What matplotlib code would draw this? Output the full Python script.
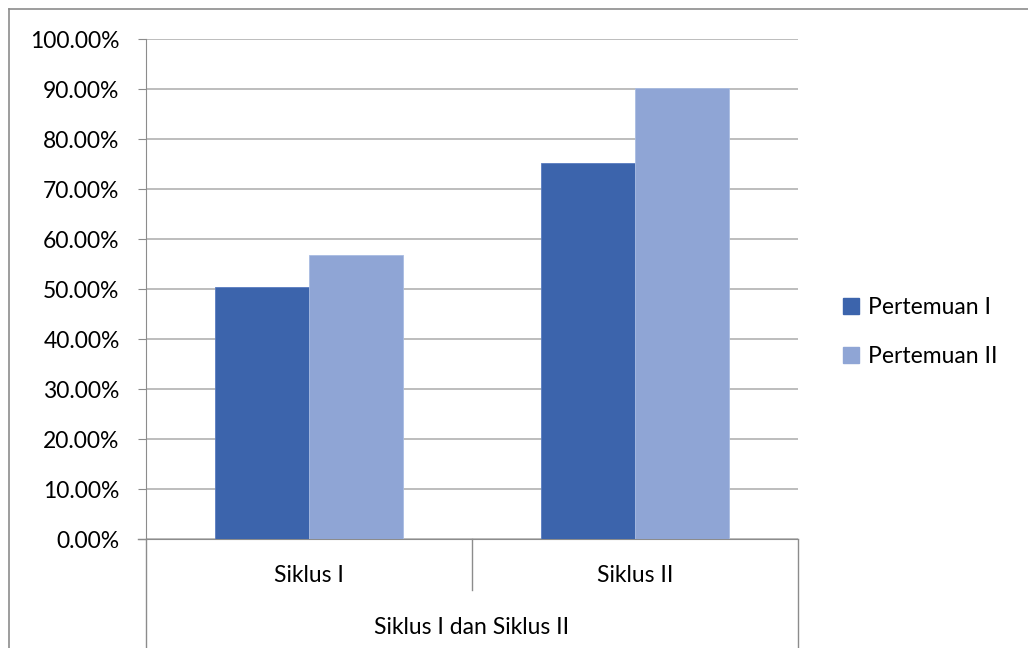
import matplotlib
matplotlib.use("Agg")
import matplotlib.pyplot as plt
import numpy as np
from matplotlib.lines import Line2D

categories = ["Siklus I", "Siklus II"]
series_names = ["Pertemuan I", "Pertemuan II"]
pertemuan_1 = [50.4, 75.2]
pertemuan_2 = [56.8, 90.2]
y_ticks = [0, 10, 20, 30, 40, 50, 60, 70, 80, 90, 100]
axis_title = "Siklus I dan Siklus II"

plt.rcParams['font.family'] = ['Lato', 'DejaVu Sans']

W, H = 1028, 648
fig = plt.figure(figsize=(W / 100, H / 100), dpi=100)
fig.patch.set_facecolor("white")

def fx(px):
    return px / W

def fy(py):
    return 1 - py / H

ax = fig.add_axes([fx(146), fy(539), fx(798) - fx(146), (539 - 39) / H])

FS = 16.5
c1 = "#3C64AC"
c2 = "#8FA5D5"
x = np.arange(len(categories))
bw = 0.287
ax.bar(x - bw / 2, pertemuan_1, width=bw, color=c1, edgecolor="#5A7CC0", linewidth=0.6, label=series_names[0], zorder=3)
ax.bar(x + bw / 2, pertemuan_2, width=bw, color=c2, edgecolor="#A9BCE2", linewidth=0.6, label=series_names[1], zorder=3)

ax.set_xlim(-0.5, 1.5)
ax.set_ylim(0, 100)
ax.set_yticks(y_ticks)
ax.set_yticklabels([f"{v:.2f}%" for v in y_ticks], fontsize=FS)
ax.yaxis.grid(True, color="#B8B8B8", linewidth=1.3, zorder=0)
ax.set_axisbelow(True)

for s in ["top", "right"]:
    ax.spines[s].set_visible(False)
ax.spines["left"].set_color("#8C8C8C")
ax.spines["bottom"].set_color("#8C8C8C")
ax.tick_params(axis="y", direction="out", length=6, color="#8C8C8C", pad=13)
ax.set_xticks([])

tr = ax.get_xaxis_transform()
ax.plot([-0.5 - 8 / 326, -0.5], [0, 0], transform=tr, color="#8C8C8C", lw=1, clip_on=False)
ax.plot([0.5, 0.5], [0, -51 / 500], transform=tr, color="#8C8C8C", lw=1, clip_on=False)
ax.plot([-0.5, -0.5], [0, -0.25], transform=tr, color="#8C8C8C", lw=1, clip_on=False)
ax.plot([1.5, 1.5], [0, -0.25], transform=tr, color="#8C8C8C", lw=1, clip_on=False)

for xi, c in zip(x, categories):
    ax.text(xi, -36 / 500, c, transform=tr, ha="center", va="center", fontsize=FS)
ax.text(0.5, -89 / 500, axis_title, transform=tr, ha="center", va="center", fontsize=FS)

leg = fig.legend(handles=[
    plt.Rectangle((0, 0), 1, 1, color=c1),
    plt.Rectangle((0, 0), 1, 1, color=c2)],
    labels=series_names, loc="center left",
    bbox_to_anchor=(fx(822), fy(332)), frameon=False, fontsize=FS,
    handlelength=0.7, handleheight=0.7, handletextpad=0.4, labelspacing=1.2)

fig.add_artist(Line2D([fx(9), 1], [fy(9), fy(9)], color="#8C8C8C", lw=1.2))
fig.add_artist(Line2D([fx(9), fx(9)], [fy(9), 0], color="#8C8C8C", lw=1.2))

fig.savefig("out.png", dpi=100)
